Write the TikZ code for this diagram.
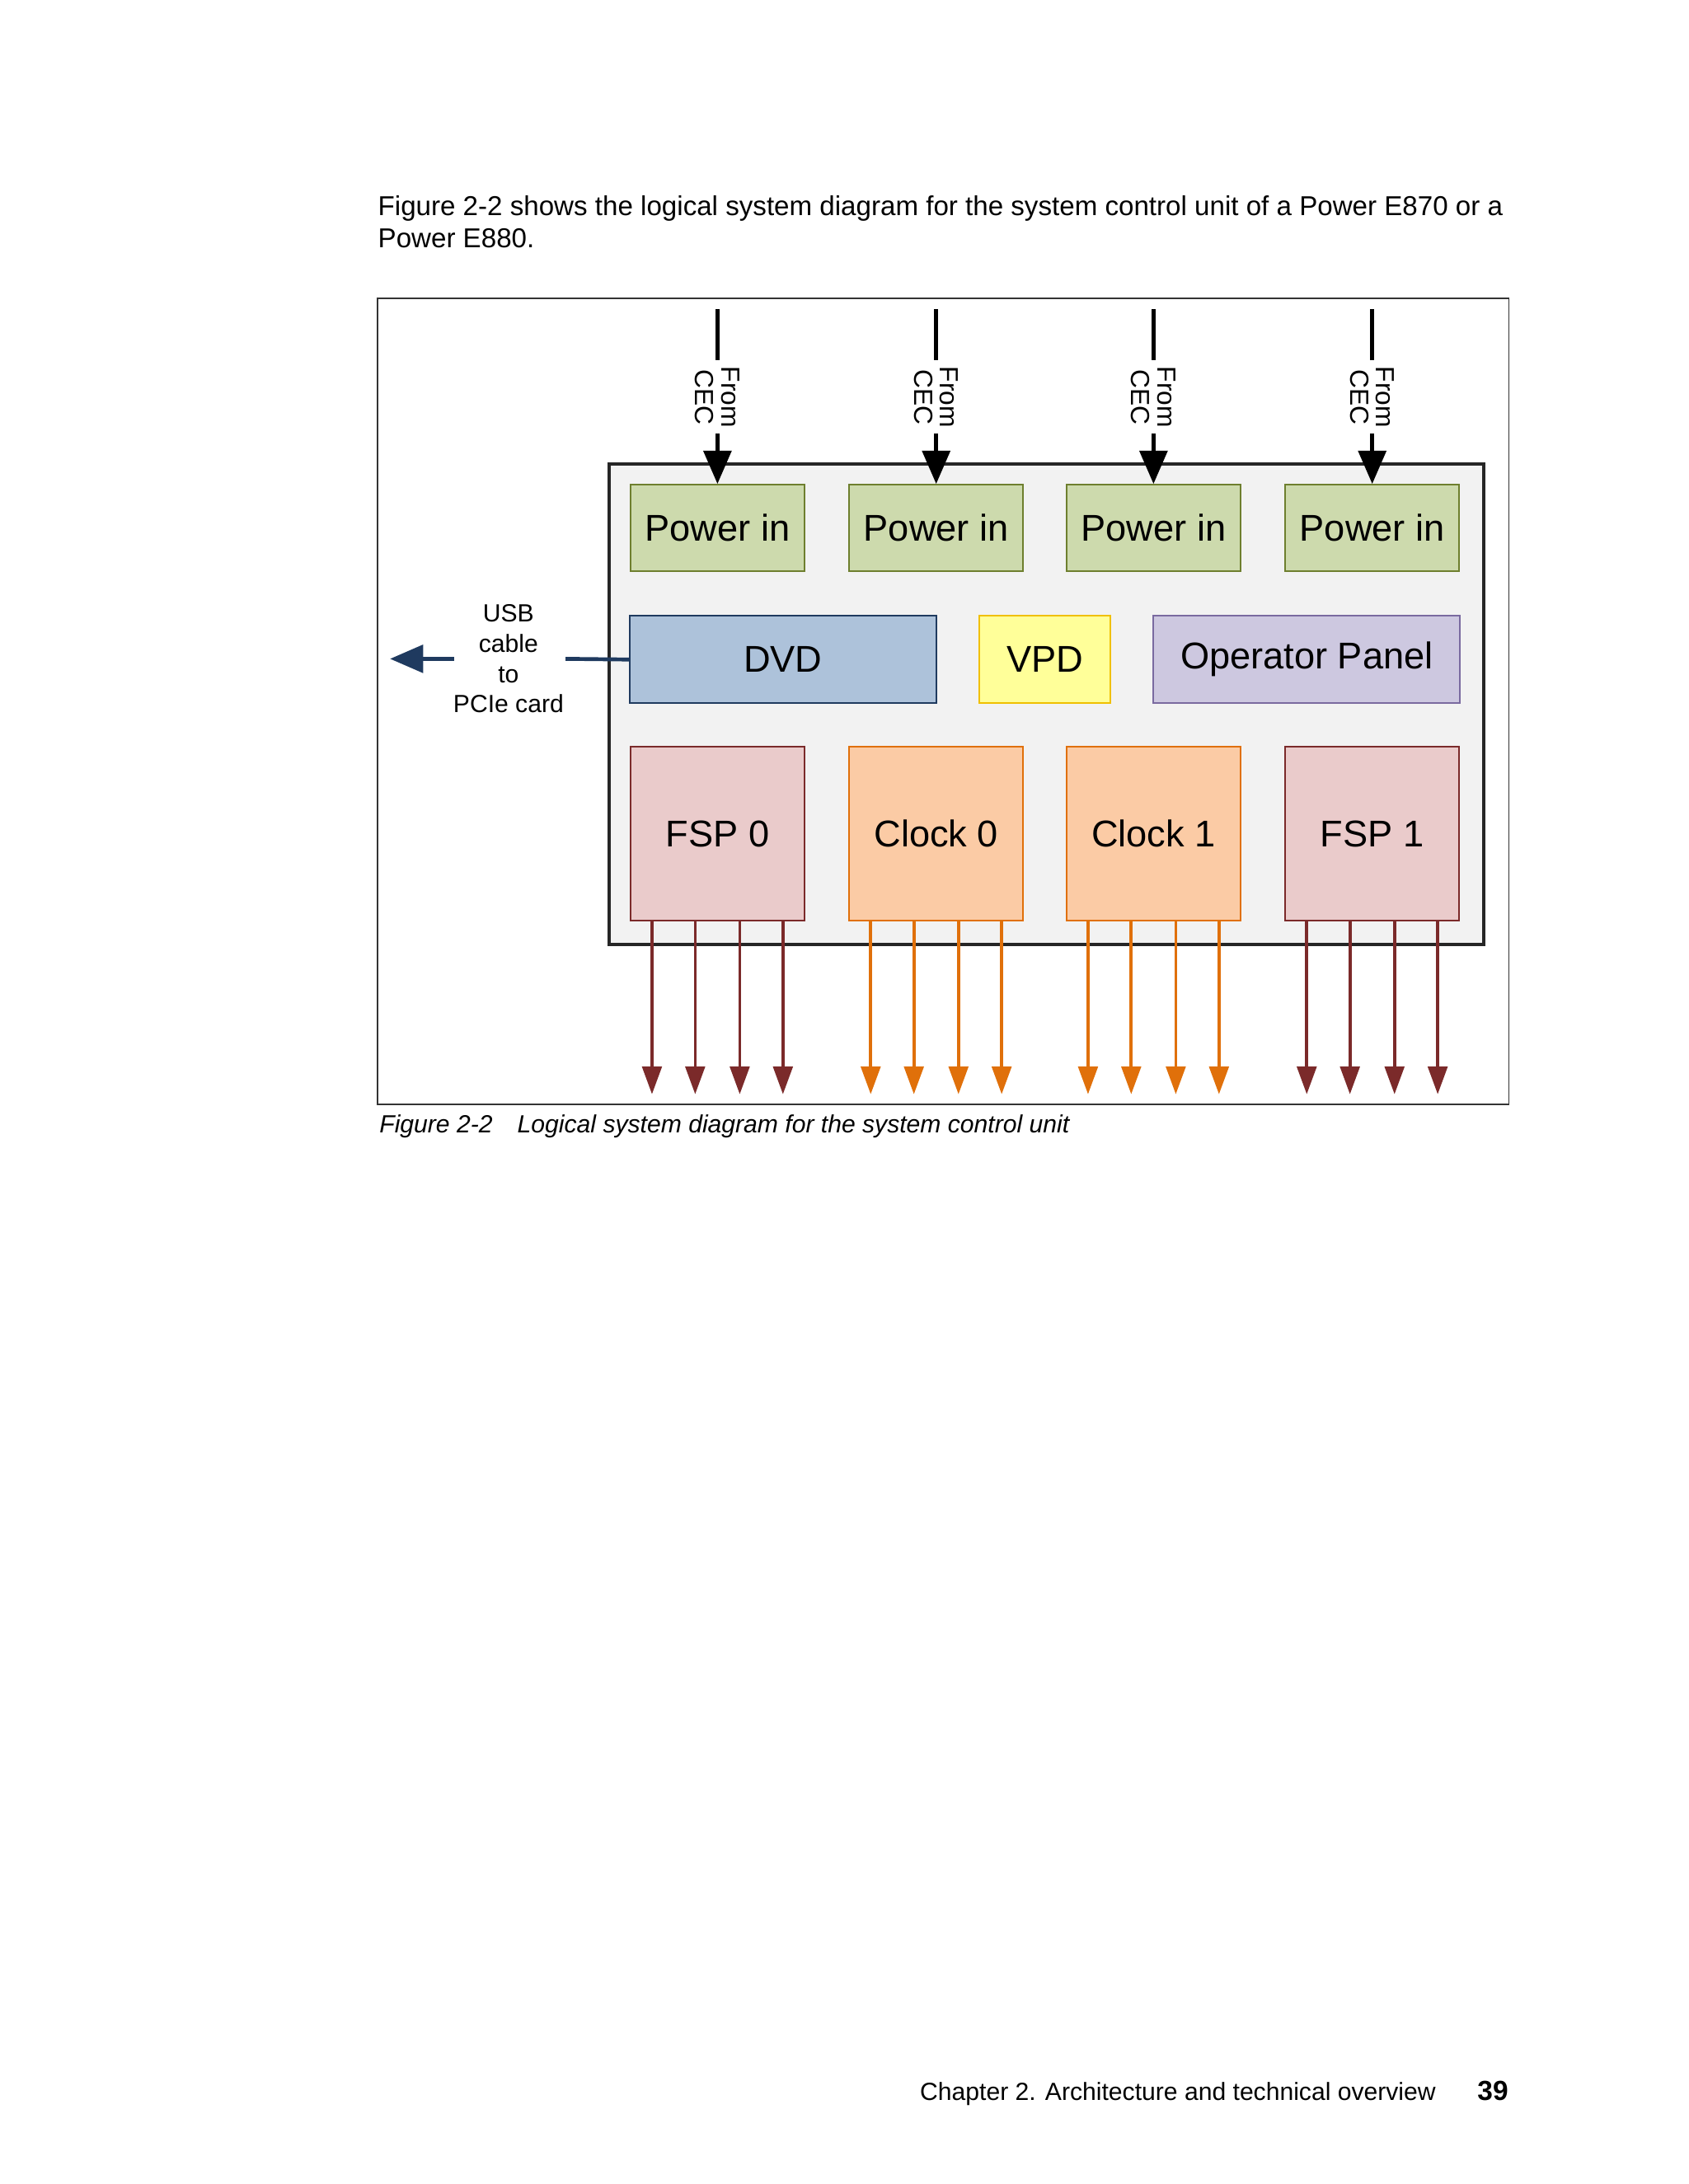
\documentclass[tikz,border=0pt]{standalone}
\usepackage{fontspec}
\setmainfont{Liberation Sans}
\usetikzlibrary{arrows.meta}
\definecolor{pfill}{HTML}{CDDAAD}\definecolor{pdraw}{HTML}{6E7F2E}
\definecolor{dfill}{HTML}{ADC2DA}\definecolor{ddraw}{HTML}{1F3A5F}
\definecolor{vfill}{HTML}{FFFF99}\definecolor{vdraw}{HTML}{F0C000}
\definecolor{ofill}{HTML}{CDC8E0}\definecolor{odraw}{HTML}{7A6AA0}
\definecolor{ffill}{HTML}{EACBCB}\definecolor{fdraw}{HTML}{7B2A2A}
\definecolor{cfill}{HTML}{FBCBA5}\definecolor{cdraw}{HTML}{E0700A}
\definecolor{mfill}{HTML}{F2F2F2}
\begin{document}
\begin{tikzpicture}[x=0.505pt,y=-0.505pt,
  box/.style={draw, line width=0.6pt, inner sep=0, font=\fontsize{13.5}{16}\selectfont},
  cec/.style={rotate=-90, align=center, font=\fontsize{9.5}{9.5}\selectfont, inner xsep=2pt, inner ysep=1pt},
  inarr/.style={line width=1.4pt, -{Triangle[length=12pt,width=10pt]}},
  outarr/.style={line width=1.1pt, -{Triangle[length=10pt,width=7pt]}}]
\fill[white] (0,0) rectangle (1212,1568);
\useasboundingbox (0,0) rectangle (1212,1568);
\node[anchor=base west, font=\fontsize{9.9}{12}\selectfont, inner sep=0] (t1) at (271,155) {Figure 2-2 shows the logical system diagram for the system control unit of a Power E870 or a};
\node[anchor=base west, font=\fontsize{9.9}{12}\selectfont, inner sep=0] (t2) at (271,178) {Power E880.};
\draw[line width=0.5pt, black!80] (271,214) rectangle (1083,793);
\node[draw=black!85, fill=mfill, line width=1.2pt, minimum width=628*0.505pt, minimum height=345*0.505pt, anchor=north west, inner sep=0] (main) at (436,332) {};
\foreach \i/\x in {1/515,2/672,3/828,4/985}{
  \node[box, fill=pfill, draw=pdraw, minimum width=125*0.505pt, minimum height=62*0.505pt] (p\i) at (\x,379) {Power in};
  \coordinate (s\i) at (\x,222);
  \node[cec] (c\i) at (\x,285) {From\\CEC};
  \draw[line width=1.4pt] (s\i) -- (c\i.west);
  \draw[inarr] (c\i.east) -- (p\i.north);
}
\node[box, fill=dfill, draw=ddraw, minimum width=220*0.505pt, minimum height=63*0.505pt] (dvd) at (562,473.5) {DVD};
\node[box, fill=vfill, draw=vdraw, minimum width=94*0.505pt, minimum height=63*0.505pt] (vpd) at (750,473.5) {VPD};
\node[box, fill=ofill, draw=odraw, minimum width=220*0.505pt, minimum height=63*0.505pt] (op) at (938,473.5) {Operator Panel};
\node[box, fill=ffill, draw=fdraw, minimum width=125*0.505pt, minimum height=125*0.505pt] (f0) at (515,598.5) {FSP 0};
\node[box, fill=cfill, draw=cdraw, minimum width=125*0.505pt, minimum height=125*0.505pt] (k0) at (672,598.5) {Clock 0};
\node[box, fill=cfill, draw=cdraw, minimum width=125*0.505pt, minimum height=125*0.505pt] (k1) at (828,598.5) {Clock 1};
\node[box, fill=ffill, draw=fdraw, minimum width=125*0.505pt, minimum height=125*0.505pt] (f1) at (985,598.5) {FSP 1};
\node[align=center, font=\fontsize{9}{11}\selectfont, inner sep=0] (usb) at (365,473) {USB\\cable\\to\\PCIe card};
\coordinate (usbend) at (280,473);
\draw[ddraw, line width=1.4pt] (dvd.west) -- (406,473);
\draw[ddraw, line width=1.4pt, -{Triangle[length=12pt,width=10pt]}] (326,473) -- (usbend);
\foreach \n/\c in {f0/fdraw,k0/cdraw,k1/cdraw,f1/fdraw}{
  \foreach \d/\k in {-47/a,-16/b,16/c,47/d}{
    \coordinate (\n\k) at ([xshift=\d*0.505pt, yshift=-124*0.505pt]\n.south);
    \draw[outarr, draw=\c, fill=\c] ([xshift=\d*0.505pt]\n.south) -- (\n\k);
  }
}
\node[anchor=base west, font=\itshape\fontsize{9}{11}\selectfont, inner sep=0] (cap) at (272,813) {Figure 2-2\quad Logical system diagram for the system control unit};
\node[anchor=base east, font=\fontsize{9}{12}\selectfont, inner sep=0] (ch) at (1031,1508) {Chapter 2. Architecture and technical overview};
\node[anchor=base east, font=\bfseries\fontsize{10}{12}\selectfont, inner sep=0] (pg) at (1083,1508) {39};
\end{tikzpicture}
\end{document}
